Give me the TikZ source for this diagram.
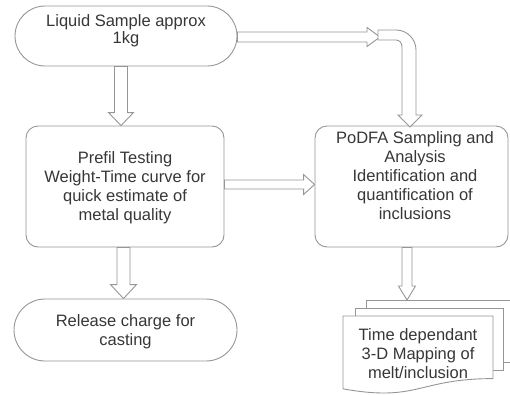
\documentclass[tikz,border=0pt]{standalone}
\usepackage{fontspec}
\setmainfont{Liberation Sans}
\usetikzlibrary{calc}
\definecolor{linegray}{RGB}{150,150,150}
\definecolor{textgray}{RGB}{55,55,55}
\tikzset{
  box/.style={draw=linegray, line width=0.9pt, fill=white, rectangle, inner sep=0pt},
  txt/.style={text=textgray, align=center, inner sep=0pt, font=\fontsize{16.5}{19}\selectfont},
  blk/.style={draw=linegray, line width=0.9pt, fill=white, line join=miter},
  page/.style={draw=linegray, line width=0.9pt, fill=white},
}
\newcommand{\vblk}[5]{\draw[blk] let \p1=(#1), \p2=(#2) in
  (\x1-#3pt,\y1) -- (\x1-#3pt,\y2+#5pt) -- (\x1-#4pt,\y2+#5pt) -- (\x1,\y2)
  -- (\x1+#4pt,\y2+#5pt) -- (\x1+#3pt,\y2+#5pt) -- (\x1+#3pt,\y1) -- cycle;}
\newcommand{\hblk}[5]{\draw[blk] let \p1=(#1), \p2=(#2) in
  (\x1,\y1+#3pt) -- (\x2-#5pt,\y1+#3pt) -- (\x2-#5pt,\y1+#4pt) -- (\x2,\y1)
  -- (\x2-#5pt,\y1-#4pt) -- (\x2-#5pt,\y1-#3pt) -- (\x1,\y1-#3pt) -- cycle;}
\begin{document}
\begin{tikzpicture}[x=1pt,y=-1pt]
\useasboundingbox (0,0) rectangle (510,394);
% boxes
\node[box, minimum width=222pt, minimum height=60pt, rounded corners=30pt] (top) at (126,36) {};
\node[txt, font=\fontsize{16.5}{17}\selectfont] (topt) at (126,30.5) {Liquid Sample approx\\1kg};
\node[box, minimum width=198pt, minimum height=121pt, rounded corners=12pt] (prefil) at (125,186.5) {};
\node[txt] (prefilt) at (125,187.4) {Prefil Testing\\Weight-Time curve for\\quick estimate of\\metal quality};
\node[box, minimum width=193pt, minimum height=121pt, rounded corners=12pt] (podfa) at (411.5,186.5) {};
\node[txt] (podfat) at (415,176) {PoDFA Sampling and\\Analysis\\Identification and\\quantification of\\inclusions};
\node[box, minimum width=223pt, minimum height=62pt, rounded corners=31pt] (release) at (125.5,330) {};
\node[txt] (releaset) at (125.5,331.7) {Release charge for\\casting};
% multidocument
\draw[page] (366,308) -- (366,300) -- (514,300) -- (514,362) -- (503,362);
\draw[page] (355,316) -- (355,308) -- (503,308) -- (503,370) -- (493,370);
\draw[page] (343,316) -- (493,316) -- (493,378.6)
  .. controls (418,378.6) and (418,402.4) .. (343,388.8) -- cycle;
\node[txt] (mdoc) at (418,353.5) {Time dependant\\3-D Mapping of\\melt/inclusion};
\coordinate (mdtop) at (407,300);
\coordinate (bendin) at (380,37);
% block arrows
\vblk{[xshift=-5pt]top.south}{prefil.north}{6.5}{12.5}{13}
\hblk{[yshift=-1pt]top.east}{bendin}{5}{9.5}{13}
\draw[blk] (378,40) -- (378,30) -- (396,30) .. controls (407,30) and (416,39) .. (416,50)
  -- (416,115) -- (422,115) -- (410,127) -- (398,115) -- (402,115) -- (402,47)
  .. controls (402,43) and (399.5,40) .. (396,40) -- cycle;
\hblk{[yshift=2pt]prefil.east}{podfa.west}{4.5}{10}{11}
\vblk{[xshift=-1.5pt]prefil.south}{release.north}{6.5}{13}{14}
\vblk{[xshift=-4.5pt]podfa.south}{mdtop}{5}{8.5}{14}
\end{tikzpicture}
\end{document}
